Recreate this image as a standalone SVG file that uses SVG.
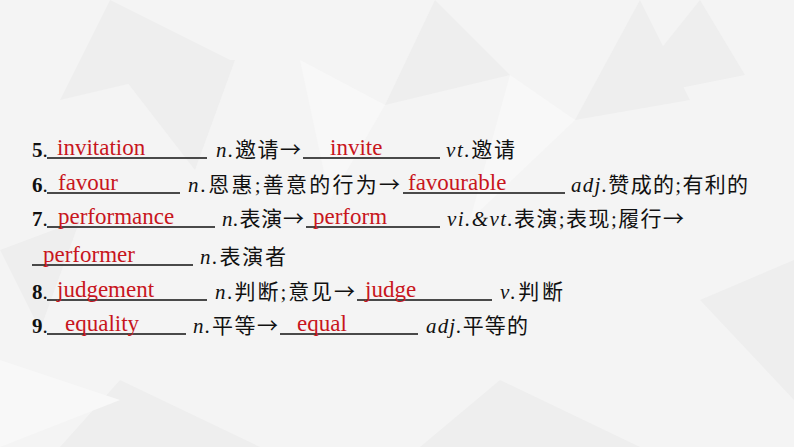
<svg xmlns="http://www.w3.org/2000/svg" width="794" height="447" viewBox="0 0 794 447">
<style>
.t{font-family:"Liberation Serif","Noto Sans CJK SC",serif;font-size:21px;fill:#111}
.b{font-weight:bold}
.i{font-style:italic}
.r{font-family:"Noto Sans CJK SC",sans-serif}
.a{font-family:"Liberation Serif",serif;font-size:23px;fill:#c8161d}
.u{stroke:#111;stroke-width:1.3}
</style>
<rect width="794" height="447" fill="#f4f4f4"/>
<g fill="#eeeeee">
<polygon points="60,100 110,0 230,60"/>
<polygon points="110,60 235,60 195,170"/>
<polygon points="385,105 435,0 510,75"/>
<polygon points="575,120 690,100 640,0"/>
<polygon points="620,100 745,75 700,0"/>
<polygon points="0,250 80,220 40,330"/>
<polygon points="700,300 794,260 794,400"/>
<polygon points="120,380 260,447 60,447"/>
<polygon points="500,380 640,447 420,447"/>
</g>
<g fill="#f8f8f8">
<polygon points="300,60 385,105 330,200"/>
<polygon points="510,75 575,120 470,220"/>
<polygon points="0,360 120,400 0,447"/>
</g>
<g id="line5">
<text class="t" x="32" y="157"><tspan class="b">5</tspan>.</text>
<line class="u" x1="47" y1="158" x2="207" y2="158"/>
<text class="a" x="57" y="155">invitation</text>
<text class="t" x="216" y="157" textLength="85"><tspan class="i">n.</tspan>邀请<tspan class="r">→</tspan></text>
<line class="u" x1="303" y1="158" x2="440" y2="158"/>
<text class="a" x="330" y="155">invite</text>
<text class="t" x="446" y="157" textLength="69"><tspan class="i">vt.</tspan>邀请</text>
</g>
<g id="line6">
<text class="t" x="32" y="192"><tspan class="b">6</tspan>.</text>
<line class="u" x1="47" y1="193" x2="180" y2="193"/>
<text class="a" x="58" y="190">favour</text>
<text class="t" x="188" y="192" textLength="212"><tspan class="i">n.</tspan>恩惠;善意的行为<tspan class="r">→</tspan></text>
<line class="u" x1="403" y1="193" x2="565" y2="193"/>
<text class="a" x="408" y="190">favourable</text>
<text class="t" x="571" y="192" textLength="177"><tspan class="i">adj.</tspan>赞成的;有利的</text>
</g>
<g id="line7">
<text class="t" x="32" y="226"><tspan class="b">7</tspan>.</text>
<line class="u" x1="47" y1="227" x2="215" y2="227"/>
<text class="a" x="58" y="224">performance</text>
<text class="t" x="222" y="226" textLength="82"><tspan class="i">n.</tspan>表演<tspan class="r">→</tspan></text>
<line class="u" x1="306" y1="227" x2="440" y2="227"/>
<text class="a" x="313" y="224">perform</text>
<text class="t" x="447" y="226" textLength="237"><tspan class="i">vi.&amp;vt.</tspan>表演;表现;履行<tspan class="r">→</tspan></text>
<line class="u" x1="32" y1="265" x2="193" y2="265"/>
<text class="a" x="43" y="262">performer</text>
<text class="t" x="200" y="264" textLength="86"><tspan class="i">n.</tspan>表演者</text>
</g>
<g id="line8">
<text class="t" x="32" y="299"><tspan class="b">8</tspan>.</text>
<line class="u" x1="47" y1="300" x2="207" y2="300"/>
<text class="a" x="57" y="297">judgement</text>
<text class="t" x="215" y="299" textLength="140"><tspan class="i">n.</tspan>判断;意见<tspan class="r">→</tspan></text>
<line class="u" x1="357" y1="300" x2="492" y2="300"/>
<text class="a" x="365" y="297">judge</text>
<text class="t" x="500" y="299" textLength="63"><tspan class="i">v.</tspan>判断</text>
</g>
<g id="line9">
<text class="t" x="32" y="333"><tspan class="b">9</tspan>.</text>
<line class="u" x1="47" y1="334" x2="186" y2="334"/>
<text class="a" x="65" y="331">equality</text>
<text class="t" x="193" y="333" textLength="85"><tspan class="i">n.</tspan>平等<tspan class="r">→</tspan></text>
<line class="u" x1="280" y1="334" x2="418" y2="334"/>
<text class="a" x="297" y="331">equal</text>
<text class="t" x="426" y="333" textLength="102"><tspan class="i">adj.</tspan>平等的</text>
</g>
</svg>
